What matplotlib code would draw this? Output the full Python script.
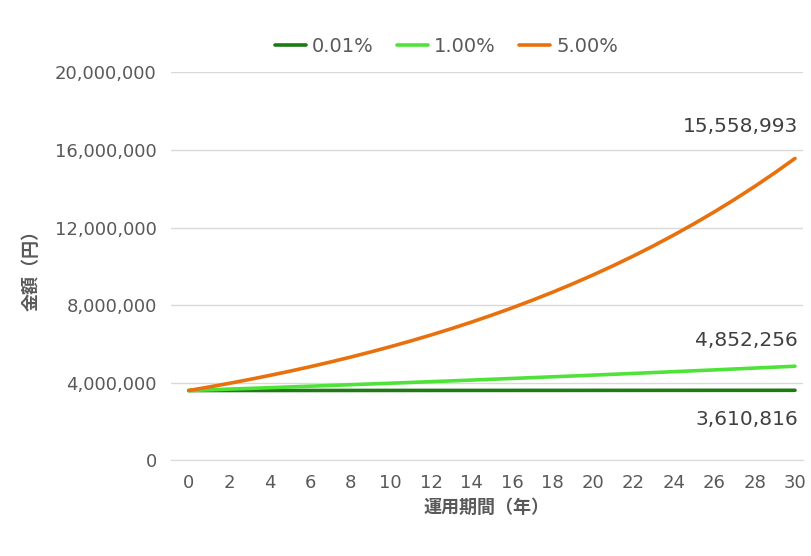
import matplotlib
matplotlib.use("Agg")
import matplotlib.pyplot as plt
from matplotlib.ticker import FuncFormatter

plt.rcParams["font.family"] = ["DejaVu Sans", "Noto Sans CJK JP"]

years = list(range(31))
s001 = [3600000,3600360,3600720,3601080,3601440,3601800,3602161,3602521,3602881,3603242,3603602,
        3603963,3604323,3604684,3605044,3605405,3605765,3606126,3606487,3606847,3607208,
        3607569,3607929,3608290,3608651,3609012,3609373,3609734,3610095,3610455,3610816]
s100 = [3600000,3636000,3672360,3709084,3746175,3783636,3821473,3859688,3898285,3937268,3976640,
        4016407,4056571,4097136,4138108,4179489,4221284,4263497,4306132,4349193,4392685,
        4436612,4480978,4525788,4571046,4616756,4662924,4709553,4756649,4804215,4852256]
s500 = [3600000,3780000,3969000,4167450,4375823,4594614,4824344,5065562,5318840,5584782,5864021,
        6157222,6465083,6788337,7127754,7484142,7858349,8251266,8663829,9097021,9551872,
        10029465,10530939,11057486,11610360,12190878,12800422,13440443,14112465,14818088,15558993]
labels = ["0.01%", "1.00%", "5.00%"]
colors = ["#1e7b14", "#4fe33a", "#e8710e"]
series = [s001, s100, s500]

fig = plt.figure(figsize=(8.12, 5.56), dpi=100)
ax = fig.add_axes([0.21, 0.172, 0.779, 0.698])
for s, c, l in zip(series, colors, labels):
    ax.plot(years, s, color=c, lw=2.6, label=l, solid_capstyle="round")
ax.set_xlim(-0.9, 30.4)
ax.set_ylim(0, 20000000)
ax.set_xticks(range(0, 31, 2))
ax.set_yticks(range(0, 20000001, 4000000))
ax.yaxis.set_major_formatter(FuncFormatter(lambda v, p: f"{int(v):,}"))
ax.grid(axis="y", color="#d9d9d9", lw=1)
ax.set_axisbelow(True)
for sp in ["top", "right", "left"]:
    ax.spines[sp].set_visible(False)
ax.spines["bottom"].set_color("#d9d9d9")
ax.tick_params(length=0, labelsize=13, colors="#595959", pad=10)
ax.set_xlabel("運用期間（年）", fontsize=13, fontweight="bold", color="#595959",
              fontfamily="Noto Sans CJK JP", labelpad=4)
ax.set_ylabel("金額（円）", fontsize=13, fontweight="bold", color="#595959",
              fontfamily="Noto Sans CJK JP", labelpad=10)

ax.annotate(f"{s500[-1]:,}", (years[-1], s500[-1]), xytext=(2, 16), textcoords="offset points",
            ha="right", va="bottom", fontsize=14.5, color="#404040")
ax.annotate(f"{s100[-1]:,}", (years[-1], s100[-1]), xytext=(2, 12), textcoords="offset points",
            ha="right", va="bottom", fontsize=14.5, color="#404040")
ax.annotate(f"{s001[-1]:,}", (years[-1], s001[-1]), xytext=(2, -14), textcoords="offset points",
            ha="right", va="top", fontsize=14.5, color="#404040")

leg = fig.legend(loc="upper center", bbox_to_anchor=(0.55, 0.965), ncol=3, frameon=False,
                 fontsize=14, handlelength=1.6, columnspacing=1.2, handletextpad=0.3)
for t in leg.get_texts():
    t.set_color("#595959")
fig.savefig("out.png", dpi=100)
